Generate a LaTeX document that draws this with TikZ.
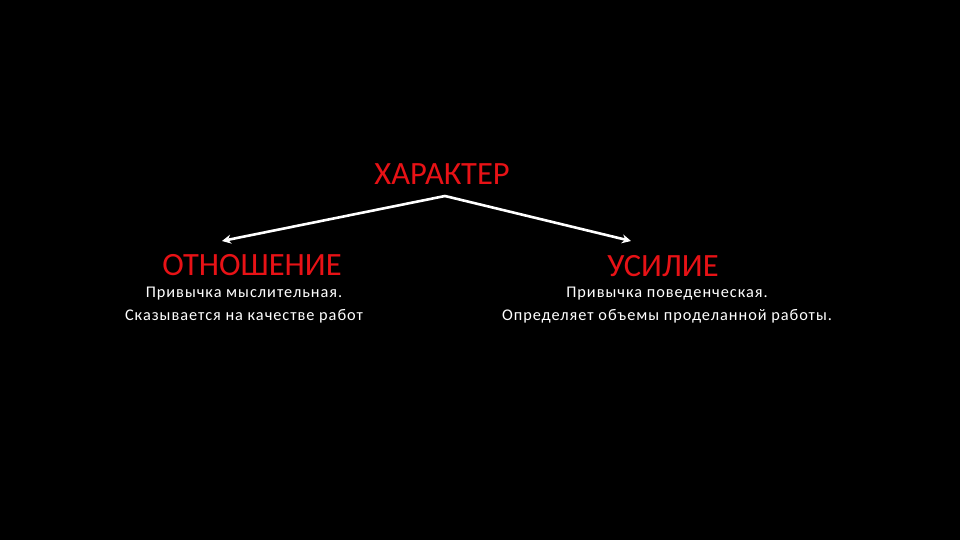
\documentclass[tikz,border=0pt]{standalone}
\usepackage{fontspec}
\setmainfont{Carlito}
\usetikzlibrary{arrows.meta}
\definecolor{titlered}{RGB}{232,18,22}
\tikzset{
  title/.style={text=titlered, font=\fontsize{32.5}{38}\selectfont, inner sep=0pt},
  body/.style={text=white, font=\fontsize{16.3}{22.5}\selectfont\addfontfeatures{LetterSpace=6}, align=center, inner sep=0pt},
  link/.style={draw=white, line width=2.6pt, -{Stealth[length=9pt,width=9pt]}}
}
\begin{document}
\begin{tikzpicture}[x=1pt,y=-1pt]
\fill[black] (0,0) rectangle (960,540);
\useasboundingbox (0,0) rectangle (960,540);
\node[title] (char) at (442,174) {ХАРАКТЕР};
\node[title] (rel) at (252,265) {ОТНОШЕНИЕ};
\node[title] (eff) at (663,266) {УСИЛИЕ};
\node[body] (reltext) at (244,305) {Привычка мыслительная.\\Сказывается на качестве работ};
\node[body] (efftext) at (667,305) {Привычка поведенческая.\\Определяет объемы проделанной работы.};
\coordinate (apex) at (445,196);
\coordinate (lend) at (222,241);
\coordinate (rend) at (631,241);
\draw[link] (apex) -- (lend);
\draw[link] (apex) -- (rend);
\end{tikzpicture}
\end{document}
